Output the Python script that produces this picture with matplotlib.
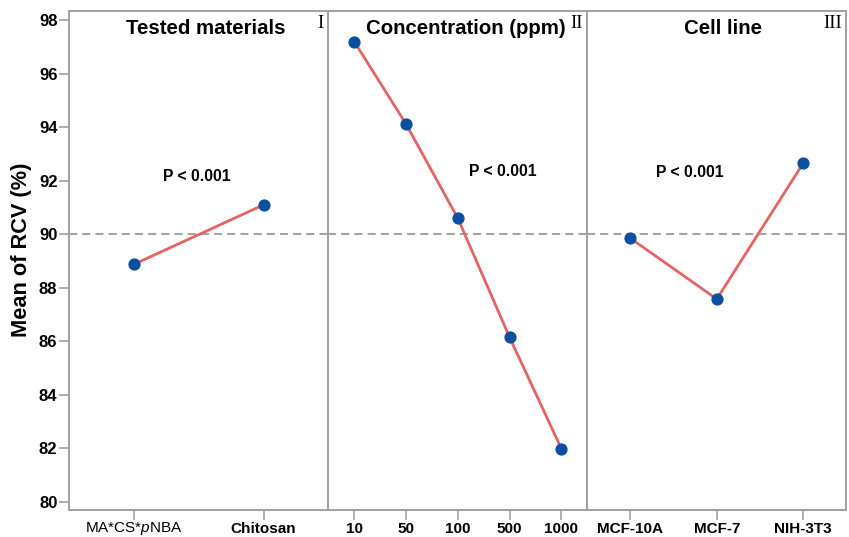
import matplotlib
matplotlib.use("Agg")
import matplotlib.pyplot as plt
from matplotlib import font_manager
from matplotlib.transforms import blended_transform_factory

# ---- data ----
panel_titles = ["Tested materials", "Concentration (ppm)", "Cell line"]
panel_numerals = ["I", "II", "III"]
materials = [r"MA*CS*$\mathit{p}$NBA", "Chitosan"]
materials_mean = [88.88, 91.10]
concentrations = ["10", "50", "100", "500", "1000"]
concentration_mean = [97.20, 94.12, 90.60, 86.15, 81.99]
cell_lines = ["MCF-10A", "MCF-7", "NIH-3T3"]
cell_mean = [89.85, 87.58, 92.65]
p_labels = ["P < 0.001", "P < 0.001", "P < 0.001"]
grand_mean = 90.0
y_ticks = [80, 82, 84, 86, 88, 90, 92, 94, 96, 98]

names = {f.name for f in font_manager.fontManager.ttflist}
sans = "Liberation Sans" if "Liberation Sans" in names else "DejaVu Sans"
narrow = "Liberation Sans Narrow" if "Liberation Sans Narrow" in names else sans
serif = "Liberation Serif" if "Liberation Serif" in names else "DejaVu Serif"
plt.rcParams['font.family'] = [sans, 'DejaVu Sans']
plt.rcParams['mathtext.fontset'] = 'custom'
plt.rcParams['mathtext.rm'] = narrow
plt.rcParams['mathtext.it'] = narrow + ':italic'

line_c = "#E46363"
mark_c = "#0A4FA0"
spine_c = "#A0A0A0"

fig = plt.figure(figsize=(8.49, 5.37), dpi=100)
W, H = 849, 537
left, right = 69.3, 846.3
top, bottom = 11, 509.5
pw = (right - left) / 3
ah = bottom - top
groups = [(materials, materials_mean), (concentrations, concentration_mean), (cell_lines, cell_mean)]
title_dx = [7, 8, 6.4]
# P-label positions: (axes-fraction x, data y of baseline)
p_pos = [(0.493, 92.0), (0.675, 92.18), (0.396, 92.13)]

for i, (labels, vals) in enumerate(groups):
    ax = fig.add_axes([(left + i * pw) / W, (H - bottom) / H, pw / W, ah / H])
    x = list(range(1, len(labels) + 1))
    ax.axhline(grand_mean, color="#9A9A9A", lw=1.3, ls=(0, (4.5, 2.8)), zorder=1)
    ax.plot(x, vals, color=line_c, lw=2.0, zorder=2)
    ax.plot(x, vals, 'o', color=mark_c, ms=7.8, mec=mark_c, zorder=3)
    ax.set_xlim(0.5, len(labels) + 0.5)
    ax.set_ylim(79.72, 98.34)
    ax.set_xticks(x)
    ax.set_xticklabels(labels, fontsize=11, fontweight='bold', family=[narrow, 'DejaVu Sans'])
    if i == 0:
        ax.get_xticklabels()[0].set_fontweight('normal')
    ax.set_yticks(y_ticks)
    for s in ax.spines.values():
        s.set_color(spine_c)
        s.set_linewidth(1.4)
    ax.tick_params(axis='x', colors=spine_c, labelcolor='black', length=7, width=1.2, pad=2)
    if i == 0:
        ax.xaxis.get_major_ticks()[0].set_pad(0.5)
        ax.tick_params(axis='y', colors=spine_c, labelcolor='black', length=7, width=1.2,
                       labelsize=12, pad=1.5)
        for t in ax.get_yticklabels():
            t.set_fontweight('bold')
    else:
        ax.tick_params(axis='y', left=False, labelleft=False)
    ax.text(0.5 + title_dx[i] / pw, (bottom - 34.5) / ah, panel_titles[i], transform=ax.transAxes,
            ha='center', va='baseline', fontsize=14.7, fontweight='bold')
    ax.text(1 - 4.5 / pw, (bottom - 28.5) / ah, panel_numerals[i], transform=ax.transAxes,
            ha='right', va='baseline', fontsize=13.5, family=serif)
    px, py = p_pos[i]
    ax.text(px, py, p_labels[i], transform=blended_transform_factory(ax.transAxes, ax.transData),
            ha='center', va='baseline', fontsize=11.3, fontweight='bold')

fig.text(22 / W, 1 - 250 / H, "Mean of RCV (%)", rotation=90, ha='center', va='center',
         fontsize=15.7, fontweight='bold')

fig.savefig("out.png", dpi=100)
